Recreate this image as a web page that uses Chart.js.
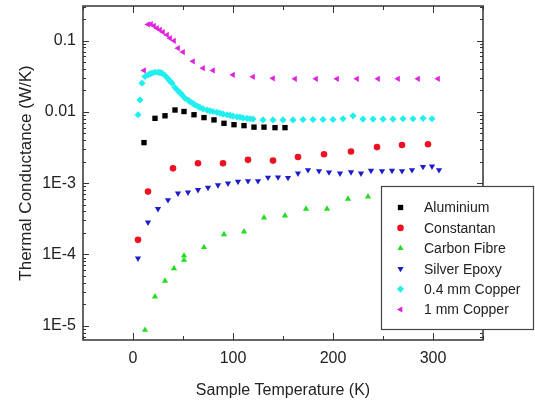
<!DOCTYPE html>
<html>
<head>
<meta charset="utf-8">
<script src="https://cdn.jsdelivr.net/npm/chart.js@4/dist/chart.umd.min.js"></script>
<style>
html, body { margin: 0; padding: 0; background: #fff; }
</style>
</head>
<body>
<canvas id="c" width="535" height="403"></canvas>
<script>
// values (temperature in K, conductance in W/K)
const aluT = [11, 22, 32, 42, 51, 61, 71, 81, 91, 101, 111, 121, 131, 142, 152];
const aluK = [0.0037, 0.0081, 0.0088, 0.0106, 0.0101, 0.0091, 0.0083, 0.0077, 0.0069, 0.0066, 0.0064, 0.0061, 0.0061, 0.0060, 0.0060];

const conT = [5, 15, 40, 65, 90, 115, 140, 165, 191, 218, 244, 269, 295];
const conK = [1.6e-4, 7.6e-4, 1.61e-3, 1.9e-3, 1.9e-3, 2.12e-3, 2.07e-3, 2.32e-3, 2.54e-3, 2.77e-3, 3.2e-3, 3.43e-3, 3.5e-3];

const cfT = [12, 22, 32, 41, 51, 51, 71, 91, 111, 131, 152, 173, 194, 215, 235];
const cfK = [8.7e-6, 2.55e-5, 4.24e-5, 6.37e-5, 8.35e-5, 9.6e-5, 1.26e-4, 1.91e-4, 2.09e-4, 3.28e-4, 3.5e-4, 4.35e-4, 4.35e-4, 6.0e-4, 6.47e-4];

const seT = [5, 15, 25, 35, 45, 55, 65, 75, 85, 95, 105, 115, 125, 135, 145, 155, 165, 175, 186, 196, 207, 218, 228, 238, 249, 259, 269, 279, 290, 299, 306];
const seK = [8.8e-5, 2.82e-4, 4.35e-4, 5.8e-4, 7.2e-4, 7.43e-4, 8.03e-4, 8.65e-4, 9.4e-4, 9.93e-4, 1.05e-3, 1.07e-3, 1.07e-3, 1.2e-3, 1.21e-3, 1.19e-3, 1.37e-3, 1.53e-3, 1.48e-3, 1.42e-3, 1.37e-3, 1.43e-3, 1.37e-3, 1.5e-3, 1.48e-3, 1.5e-3, 1.48e-3, 1.53e-3, 1.7e-3, 1.72e-3, 1.53e-3];

const cu04T = [5, 7, 9, 12, 15, 17, 19, 22, 25, 27, 29, 32, 35, 37, 39, 42, 45, 47, 49, 52, 55, 57, 60, 62, 65, 67, 70, 74, 77, 80, 84, 87, 90, 94, 97, 100, 104, 107, 110, 114, 117, 120, 130, 140, 150, 160, 170, 180, 190, 200, 210, 220, 230, 240, 250, 260, 270, 280, 290, 299];
const cu04K = [0.0091, 0.0147, 0.0252, 0.0313, 0.033, 0.034, 0.0348, 0.0359, 0.0359, 0.0355, 0.0348, 0.0323, 0.029, 0.027, 0.0252, 0.0219, 0.0197, 0.0185, 0.0173, 0.0155, 0.0146, 0.0139, 0.0131, 0.0125, 0.0119, 0.0115, 0.011, 0.0106, 0.0103, 0.0101, 0.0098, 0.0096, 0.0093, 0.0091, 0.0089, 0.0087, 0.0085, 0.0084, 0.0082, 0.0081, 0.008, 0.0079, 0.0077, 0.0077, 0.0077, 0.0077, 0.0078, 0.0078, 0.0078, 0.0078, 0.008, 0.0088, 0.0079, 0.0079, 0.0079, 0.0079, 0.008, 0.008, 0.0081, 0.008];

const cu1T = [11, 15, 18, 21, 24, 27, 30, 34, 37, 41, 45, 50, 60, 70, 80, 100, 120, 140, 162, 183, 204, 224, 245, 265, 285, 305];
const cu1K = [0.038, 0.168, 0.17, 0.16, 0.149, 0.141, 0.131, 0.12, 0.108, 0.099, 0.078, 0.069, 0.051, 0.041, 0.038, 0.033, 0.031, 0.0295, 0.029, 0.029, 0.029, 0.029, 0.029, 0.029, 0.029, 0.029];

const seriesNames = ['Aluminium', 'Constantan', 'Carbon Fibre', 'Silver Epoxy', '0.4 mm Copper', '1 mm Copper'];

const xTickValues = [0, 100, 200, 300];
const xTickLabels = ['0', '100', '200', '300'];
const yTickValues = [1e-5, 1e-4, 1e-3, 0.01, 0.1];
const yTickLabels = ['1E-5', '1E-4', '1E-3', '0.01', '0.1'];

const FONT = 'Liberation Sans, Arial, sans-serif';
const AXIS_COL = '#333';

function pts(xs, ys) {
    return xs.map((v, i) => ({x: v, y: ys[i]}));
}

function ds(label, data, color, style, radius, rotation) {
    return {
        label: label,
        data: data,
        showLine: false,
        backgroundColor: color,
        borderColor: color,
        borderWidth: 0,
        pointStyle: style,
        pointRadius: radius,
        pointHoverRadius: radius,
        pointRotation: rotation || 0
    };
}

// inward ticks on all four sides plus the frame
const innerTicks = {
    id: 'innerTicks',
    afterDatasetsDraw(chart) {
        const {ctx, chartArea: a, scales: {x, y}} = chart;
        ctx.save();
        ctx.strokeStyle = AXIS_COL;
        ctx.lineWidth = 1;
        ctx.beginPath();
        y.ticks.forEach(t => {
            const py = Math.round(y.getPixelForValue(t.value)) + 0.5;
            const len = t.major ? 6 : 3;
            ctx.moveTo(a.left, py); ctx.lineTo(a.left + len, py);
            ctx.moveTo(a.right, py); ctx.lineTo(a.right - len, py);
        });
        x.ticks.forEach(t => {
            const px = Math.round(x.getPixelForValue(t.value)) + 0.5;
            const len = t.value % 100 === 0 ? 7 : 4;
            ctx.moveTo(px, a.bottom); ctx.lineTo(px, a.bottom - len);
            ctx.moveTo(px, a.top); ctx.lineTo(px, a.top + len);
        });
        ctx.stroke();
        ctx.lineWidth = 1.5;
        ctx.strokeRect(a.left, a.top, a.right - a.left, a.bottom - a.top);
        ctx.restore();
    }
};

// boxed legend that sits over the lower right corner
const boxLegend = {
    id: 'boxLegend',
    afterDraw(chart) {
        const ctx = chart.ctx;
        const bx = 381, by = 186, bw = 152, bh = 143;
        ctx.save();
        ctx.fillStyle = '#fff';
        ctx.fillRect(bx, by, bw, bh);
        ctx.strokeStyle = '#444';
        ctx.lineWidth = 1.2;
        ctx.strokeRect(bx + 0.5, by + 0.5, bw, bh);
        ctx.font = '14px ' + FONT;
        ctx.textBaseline = 'middle';
        chart.data.datasets.forEach((d, i) => {
            const ly = 207.5 + i * 20.4;
            ctx.fillStyle = d.backgroundColor;
            ctx.strokeStyle = d.borderColor;
            Chart.helpers.drawPoint(ctx, {
                pointStyle: d.pointStyle,
                radius: d.pointRadius,
                rotation: d.pointRotation,
                borderWidth: 0
            }, 400.5, ly);
            ctx.fillStyle = '#222';
            ctx.fillText(d.label, 424, ly + 1);
        });
        ctx.restore();
    }
};

new Chart('c', {
    type: 'scatter',
    data: {
        datasets: [
            ds(seriesNames[0], pts(aluT, aluK), '#000000', 'rect', 3.8),
            ds(seriesNames[1], pts(conT, conK), '#ee1122', 'circle', 3.3),
            ds(seriesNames[2], pts(cfT, cfK), '#22dd22', 'triangle', 3.6),
            ds(seriesNames[3], pts(seT, seK), '#1c1ccc', 'triangle', 3.6, 180),
            ds(seriesNames[4], pts(cu04T, cu04K), '#22eeee', 'rectRot', 3.6),
            ds(seriesNames[5], pts(cu1T, cu1K), '#e022e0', 'triangle', 3.6, 270)
        ]
    },
    options: {
        responsive: false,
        animation: false,
        layout: {padding: {left: 0, top: 6, right: 52, bottom: 0}},
        plugins: {
            legend: {display: false},
            tooltip: {enabled: false}
        },
        scales: {
            x: {
                type: 'linear',
                min: -50, max: 350,
                afterFit: s => {
                    s.height = 63;
                    s.paddingLeft = 0; s.paddingRight = 0;
                },
                afterBuildTicks: s => {
                    const t = [];
                    for (let v = -50; v <= 350; v += 50) t.push({value: v});
                    s.ticks = t;
                },
                grid: {display: false, drawTicks: false},
                border: {display: false},
                ticks: {
                    autoSkip: false,
                    maxRotation: 0,
                    padding: 9,
                    color: '#222',
                    font: {family: FONT, size: 16},
                    callback: v => {
                        const i = xTickValues.indexOf(v);
                        return i >= 0 ? xTickLabels[i] : '';
                    }
                },
                title: {
                    display: true,
                    text: 'Sample Temperature (K)',
                    color: '#222',
                    font: {family: FONT, size: 16},
                    padding: {top: 0, bottom: 3}
                }
            },
            y: {
                type: 'logarithmic',
                min: 6.3e-6, max: 0.305,
                afterFit: s => {
                    s.width = 83;
                    s.paddingTop = 0; s.paddingBottom = 0;
                },
                afterBuildTicks: s => {
                    const t = [];
                    for (let e = -6; e <= -1; e++) {
                        for (let m = 1; m <= 9; m++) {
                            const v = Number((m * Math.pow(10, e)).toPrecision(3));
                            if (v >= s.min && v <= s.max) t.push({value: v, major: m === 1});
                        }
                    }
                    s.ticks = t;
                },
                grid: {display: false, drawTicks: false},
                border: {display: false},
                ticks: {
                    autoSkip: false,
                    padding: 7,
                    color: '#222',
                    font: {family: FONT, size: 16},
                    callback: v => {
                        const i = yTickValues.findIndex(w => Math.abs(w - v) < w * 1e-6);
                        return i >= 0 ? yTickLabels[i] : '';
                    }
                },
                title: {
                    display: true,
                    text: 'Thermal Conductance (W/K)',
                    color: '#222',
                    font: {family: FONT, size: 17},
                    padding: {top: 16, bottom: 0}
                }
            }
        }
    },
    plugins: [innerTicks, boxLegend]
});
</script>
</body>
</html>
